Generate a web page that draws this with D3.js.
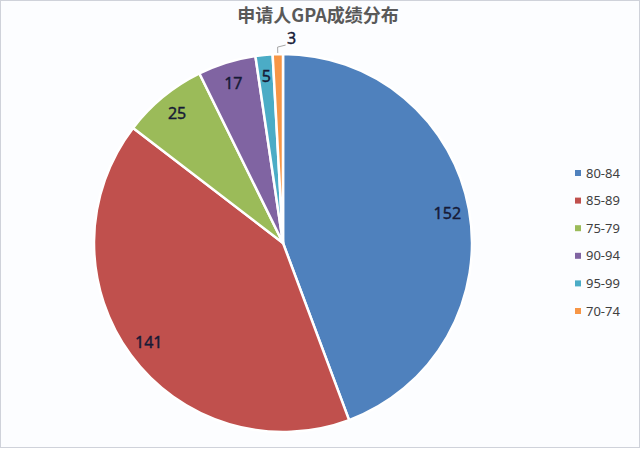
<!DOCTYPE html>
<html>
<head>
<meta charset="utf-8">
<style type="text/css">
  html, body { margin: 0; padding: 0; background: #fff; }
  .title { font: bold 18px "Noto Sans CJK SC", "Noto Sans", sans-serif; fill: #595959; }
  .label { font: 16px "Noto Sans", sans-serif; fill: #161a36; stroke: #161a36; stroke-width: 0.4px; }
  .legend text { font: 13px "Noto Sans", sans-serif; fill: #404040; }
</style>
</head>
<body>
<div class="svg_container"></div>
<script src="https://cdnjs.cloudflare.com/ajax/libs/d3/7.8.5/d3.min.js"></script>
<script type="text/javascript">
  // data
  var categories = ["80-84", "85-89", "75-79", "90-94", "95-99", "70-74"];
  var counts = [152, 141, 25, 17, 5, 3];
  var colors = ["#4f81bd", "#c0504d", "#9bbb59", "#8064a2", "#4bacc6", "#f79646"];
  var titleText = "申请人GPA成绩分布";

  var width = 640, height = 449;
  var cx = 283, cy = 243, radius = 189;

  var svg = d3.select(".svg_container").append("svg")
    .attr("width", width)
    .attr("height", height);

  // chart area background + thin frame
  svg.append("rect")
    .attr("x", 0.5).attr("y", 0.5)
    .attr("width", width - 1).attr("height", height - 2)
    .attr("fill", "#fcfdff")
    .attr("stroke", "#cfd2da");

  svg.append("text")
    .attr("class", "title")
    .attr("x", 318)
    .attr("y", 22)
    .attr("text-anchor", "middle")
    .text(titleText);

  var data = categories.map(function(c, i) {
    return { cat: c, value: counts[i], color: colors[i] };
  });

  var pie = d3.pie()
    .sort(null)
    .value(function(d) { return d.value; });

  var arc = d3.arc().innerRadius(0).outerRadius(radius);
  var labelArc = d3.arc().innerRadius(167).outerRadius(167);
  var edgeArc = d3.arc().innerRadius(radius + 1).outerRadius(radius + 1);
  var elbowArc = d3.arc().innerRadius(radius + 7).outerRadius(radius + 7);

  var g = svg.append("g")
    .attr("transform", "translate(" + cx + "," + cy + ")");

  var arcs = pie(data);

  g.selectAll(".slice")
    .data(arcs)
    .enter().append("path")
    .attr("class", "slice")
    .attr("d", arc)
    .attr("fill", function(d) { return d.data.color; })
    .attr("stroke", "#fff")
    .attr("stroke-width", 2.5)
    .attr("stroke-linejoin", "round");

  // labels inside, except the tiny last slice which gets a leader line
  arcs.forEach(function(d, i) {
    if (d.data.value > 3) {
      var p = labelArc.centroid(d);
      g.append("text")
        .attr("class", "label")
        .attr("x", p[0])
        .attr("y", p[1])
        .attr("dy", "0.35em")
        .attr("text-anchor", "middle")
        .text(d.data.value);
    } else {
      var a = edgeArc.centroid(d), b = elbowArc.centroid(d);
      var c = [b[0] + 8, b[1] - 2];
      g.append("polyline")
        .attr("points", [a, b, c].map(function(q) { return q.join(","); }).join(" "))
        .attr("fill", "none")
        .attr("stroke", "#a6a6a6")
        .attr("stroke-width", 1);
      g.append("text")
        .attr("class", "label")
        .attr("x", c[0] + 6)
        .attr("y", c[1] - 7)
        .attr("dy", "0.35em")
        .attr("text-anchor", "middle")
        .text(d.data.value);
    }
  });

  // legend
  var ly = d3.scalePoint().domain(categories).range([173, 311]);

  var legend = svg.append("g").attr("class", "legend");
  var item = legend.selectAll("g")
    .data(data)
    .enter().append("g")
    .attr("transform", function(d) { return "translate(575," + ly(d.cat) + ")"; });

  item.append("rect")
    .attr("x", 0).attr("y", -3)
    .attr("width", 6).attr("height", 6)
    .attr("fill", function(d) { return d.color; });

  item.append("text")
    .attr("x", 11)
    .attr("dy", "0.35em")
    .text(function(d) { return d.cat; });
</script>
</body>
</html>
